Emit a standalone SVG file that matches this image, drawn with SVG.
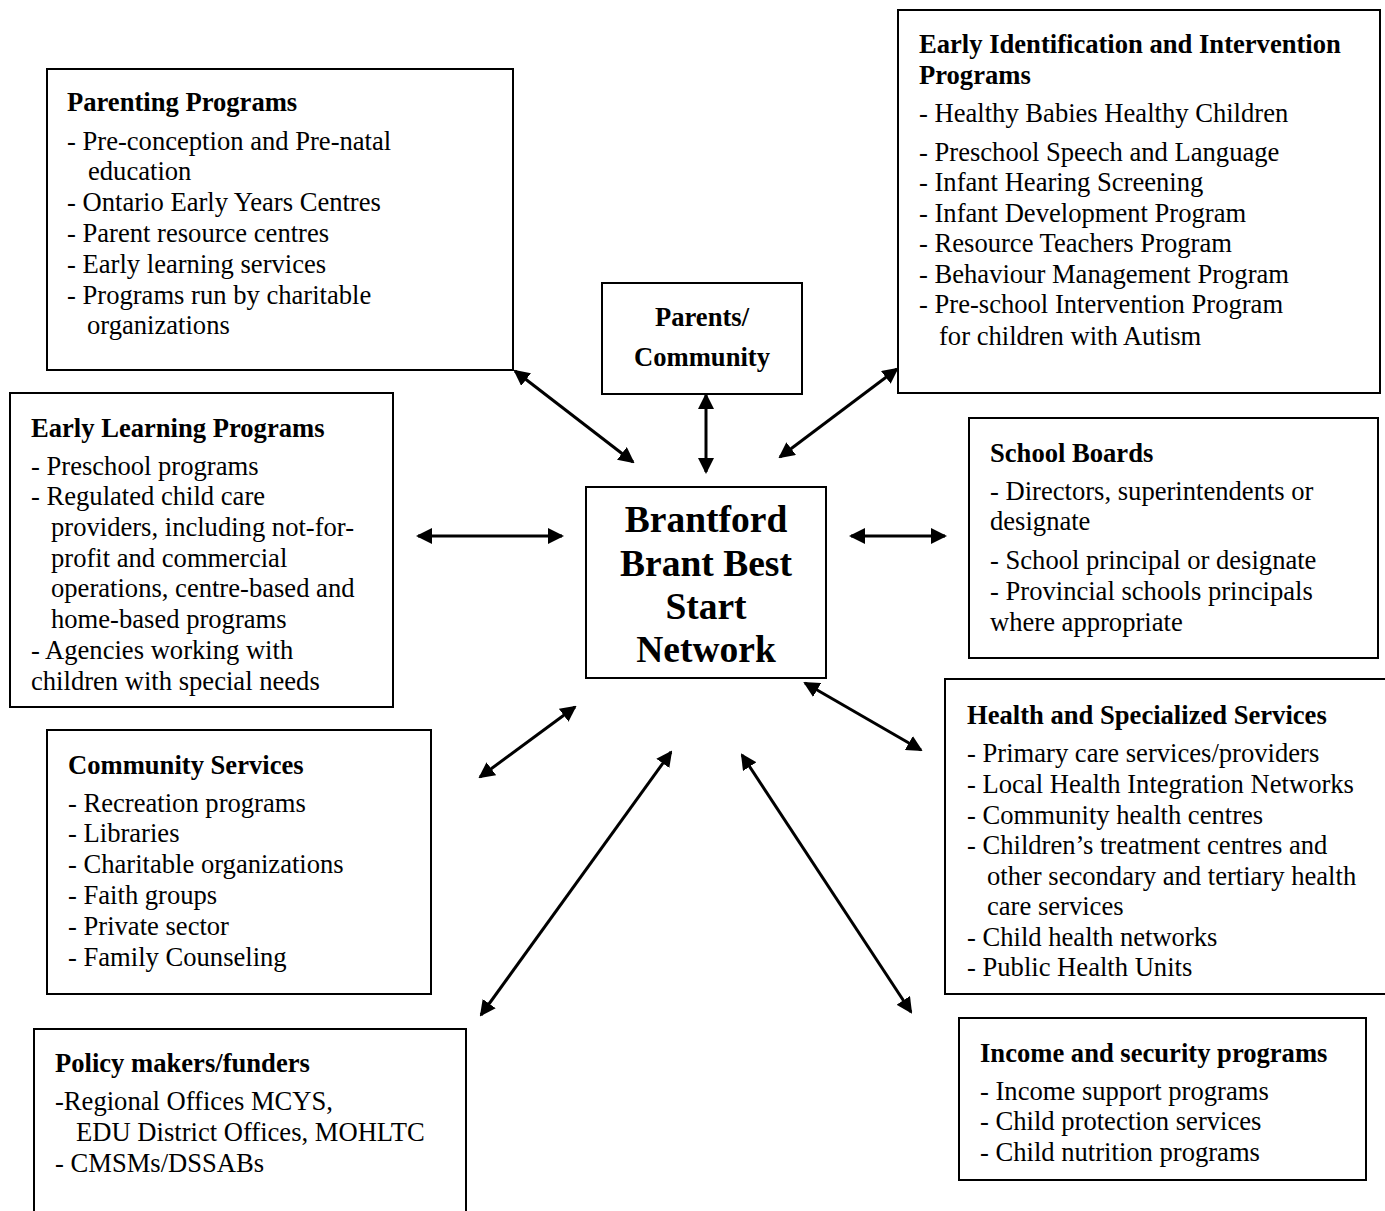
<svg xmlns="http://www.w3.org/2000/svg" width="1385" height="1211" viewBox="0 0 1385 1211">
<style>
.box{fill:#fff;stroke:#000;stroke-width:2}
text{font-family:"Liberation Serif","Times New Roman",serif;font-size:26.6px;fill:#000}
.h{font-weight:bold}
.c{font-weight:bold;font-size:37.5px;text-anchor:middle}
.p{font-weight:bold;text-anchor:middle}
.con{stroke:#000;stroke-width:3;fill:none;marker-start:url(#ah);marker-end:url(#ah)}
</style>
<defs>
<marker id="ah" viewBox="0 0 16 16" refX="14" refY="8" markerWidth="16" markerHeight="16" markerUnits="userSpaceOnUse" orient="auto-start-reverse">
<path d="M0,0 L16,8 L0,16 Z" fill="#000"/>
</marker>
</defs>
<rect width="1385" height="1211" fill="#fff"/>
<g id="connectors">
<line class="con" x1="515" y1="371" x2="633" y2="462"/>
<line class="con" x1="706" y1="395" x2="706" y2="472"/>
<line class="con" x1="897" y1="369" x2="780" y2="457"/>
<line class="con" x1="418" y1="536" x2="562" y2="536"/>
<line class="con" x1="851" y1="536" x2="945" y2="536"/>
<line class="con" x1="805" y1="683" x2="921" y2="750"/>
<line class="con" x1="480" y1="777" x2="575" y2="707"/>
<line class="con" x1="481" y1="1015" x2="671" y2="752"/>
<line class="con" x1="742" y1="755" x2="911" y2="1012"/>
</g>
<g id="parenting">
<rect class="box" x="47" y="69" width="466" height="301"/>
<text class="h" x="67" y="111">Parenting Programs</text>
<text x="67" y="150">- Pre-conception and Pre-natal</text>
<text x="88" y="180">education</text>
<text x="67" y="211">- Ontario Early Years Centres</text>
<text x="67" y="242">- Parent resource centres</text>
<text x="67" y="273">- Early learning services</text>
<text x="67" y="304">- Programs run by charitable</text>
<text x="87" y="334">organizations</text>
</g>
<g id="parents">
<rect class="box" x="602" y="283" width="200" height="111"/>
<text class="p" x="702" y="326">Parents/</text>
<text class="p" x="702" y="366">Community</text>
</g>
<g id="earlyid">
<rect class="box" x="898" y="10" width="482" height="383"/>
<text class="h" x="919" y="53">Early Identification and Intervention</text>
<text class="h" x="919" y="84">Programs</text>
<text x="919" y="122">- Healthy Babies Healthy Children</text>
<text x="919" y="161">- Preschool Speech and Language</text>
<text x="919" y="191">- Infant Hearing Screening</text>
<text x="919" y="222">- Infant Development Program</text>
<text x="919" y="252">- Resource Teachers Program</text>
<text x="919" y="283">- Behaviour Management Program</text>
<text x="919" y="313">- Pre-school Intervention Program</text>
<text x="939" y="345">for children with Autism</text>
</g>
<g id="earlylearning">
<rect class="box" x="10" y="393" width="383" height="314"/>
<text class="h" x="31" y="437">Early Learning Programs</text>
<text x="31" y="475">- Preschool programs</text>
<text x="31" y="505">- Regulated child care</text>
<text x="51" y="536">providers, including not-for-</text>
<text x="51" y="567">profit and commercial</text>
<text x="51" y="597">operations, centre-based and</text>
<text x="51" y="628">home-based programs</text>
<text x="31" y="659">- Agencies working with</text>
<text x="31" y="690">children with special needs</text>
</g>
<g id="center">
<rect class="box" x="586" y="487" width="240" height="191"/>
<text class="c" x="706" y="532">Brantford</text>
<text class="c" x="706" y="576">Brant Best</text>
<text class="c" x="706" y="619">Start</text>
<text class="c" x="706" y="662">Network</text>
</g>
<g id="schoolboards">
<rect class="box" x="969" y="418" width="409" height="240"/>
<text class="h" x="990" y="462">School Boards</text>
<text x="990" y="500">- Directors, superintendents or</text>
<text x="990" y="530">designate</text>
<text x="990" y="569">- School principal or designate</text>
<text x="990" y="600">- Provincial schools principals</text>
<text x="990" y="631">where appropriate</text>
</g>
<g id="health">
<rect class="box" x="945" y="679" width="445" height="315"/>
<text class="h" x="967" y="724">Health and Specialized Services</text>
<text x="967" y="762">- Primary care services/providers</text>
<text x="967" y="793">- Local Health Integration Networks</text>
<text x="967" y="824">- Community health centres</text>
<text x="967" y="854">- Children’s treatment centres and</text>
<text x="987" y="885">other secondary and tertiary health</text>
<text x="987" y="915">care services</text>
<text x="967" y="946">- Child health networks</text>
<text x="967" y="976">- Public Health Units</text>
</g>
<g id="community">
<rect class="box" x="47" y="730" width="384" height="264"/>
<text class="h" x="68" y="774">Community Services</text>
<text x="68" y="812">- Recreation programs</text>
<text x="68" y="842">- Libraries</text>
<text x="68" y="873">- Charitable organizations</text>
<text x="68" y="904">- Faith groups</text>
<text x="68" y="935">- Private sector</text>
<text x="68" y="966">- Family Counseling</text>
</g>
<g id="policy">
<rect class="box" x="34" y="1029" width="432" height="190"/>
<text class="h" x="55" y="1072">Policy makers/funders</text>
<text x="55" y="1110">-Regional Offices MCYS,</text>
<text x="76" y="1141">EDU District Offices, MOHLTC</text>
<text x="55" y="1172">- CMSMs/DSSABs</text>
</g>
<g id="income">
<rect class="box" x="959" y="1018" width="407" height="162"/>
<text class="h" x="980" y="1062">Income and security programs</text>
<text x="980" y="1100">- Income support programs</text>
<text x="980" y="1130">- Child protection services</text>
<text x="980" y="1161">- Child nutrition programs</text>
</g>
</svg>
